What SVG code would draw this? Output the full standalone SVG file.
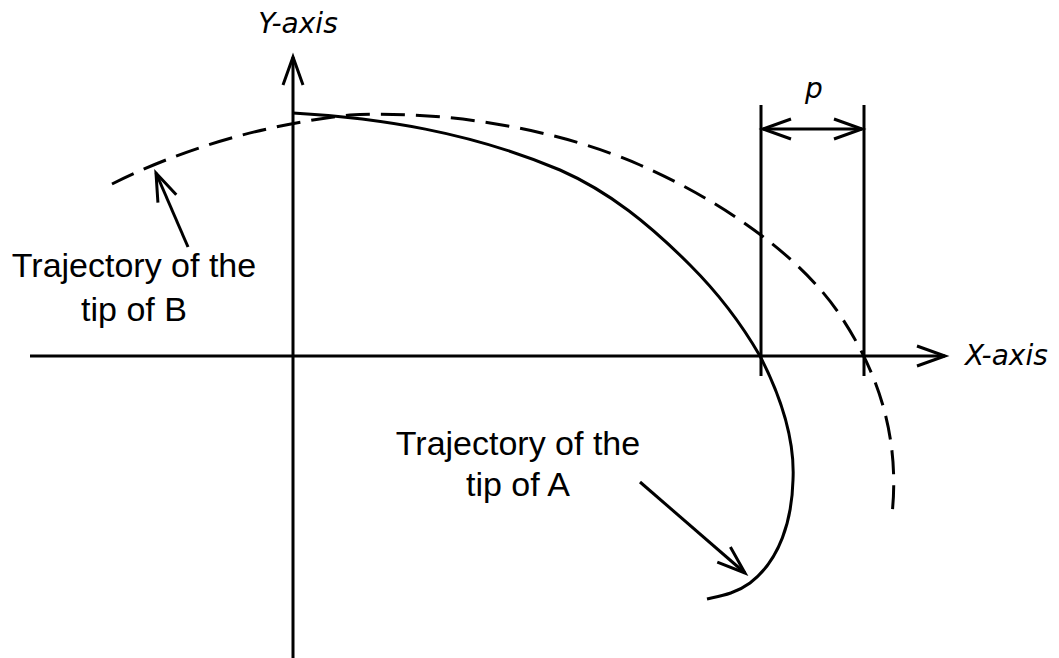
<svg xmlns="http://www.w3.org/2000/svg" width="1059" height="658" viewBox="0 0 1059 658">
<style>
.ln{fill:none;stroke:#000;stroke-width:3;stroke-linecap:butt}
.dash{fill:none;stroke:#000;stroke-width:3;stroke-dasharray:24 11}
.lbl{font-family:"Liberation Sans",Arial,sans-serif;font-size:34px;fill:#000;text-anchor:middle}
.ax{font-family:"DejaVu Sans",Verdana,sans-serif;font-style:italic;font-size:28px;fill:#000}
</style>
<defs>
<marker id="arr" markerUnits="userSpaceOnUse" viewBox="-32 -14 36 28" markerWidth="36" markerHeight="28" refX="0" refY="0" orient="auto-start-reverse" overflow="visible">
<path d="M-28,-10 L0,0 L-28,10" fill="none" stroke="#000" stroke-width="3"/>
</marker>
</defs>
<rect width="1059" height="658" fill="#fff"/>
<g id="axes">
<line class="ln" x1="30" y1="356" x2="945" y2="356" marker-end="url(#arr)"/>
<line class="ln" x1="293" y1="658" x2="293" y2="57" marker-end="url(#arr)"/>
<text class="ax" x="298" y="33" text-anchor="middle">Y-axis</text>
<text class="ax" x="965" y="365">X-axis</text>
</g>
<g id="trajA">
<path class="ln" d="M293,113 C380,118 470,132 560,170 C610,192 650,225 690,265 C725,300 745,330 760,356 C780,395 795,440 793,480 C792,520 780,560 750,583 C735,594 720,596 707,599"/>
</g>
<g id="trajB">
<path class="dash" d="M112,184 C180,150 260,125 350,115 C450,110 560,130 640,165 C720,200 800,255 840,315 C880,375 900,440 892,515"/>
</g>
<g id="dimension">
<line class="ln" x1="761" y1="105" x2="761" y2="376"/>
<line class="ln" x1="864" y1="105" x2="864" y2="376"/>
<text class="ax" x="814" y="98" text-anchor="middle">p</text>
</g>
<g id="labelB">
<text class="lbl" x="134" y="277">Trajectory of the</text>
<text class="lbl" x="134" y="321">tip of B</text>
</g>
<g id="labelA">
<text class="lbl" x="518" y="455">Trajectory of the</text>
<text class="lbl" x="518" y="496">tip of A</text>
</g>
<g id="connectors">
<line class="ln" x1="763" y1="129" x2="862" y2="129" marker-start="url(#arr)" marker-end="url(#arr)"/>
<line class="ln" x1="188" y1="247" x2="156" y2="173" marker-end="url(#arr)"/>
<line class="ln" x1="640" y1="482" x2="745" y2="573" marker-end="url(#arr)"/>
</g>
</svg>
